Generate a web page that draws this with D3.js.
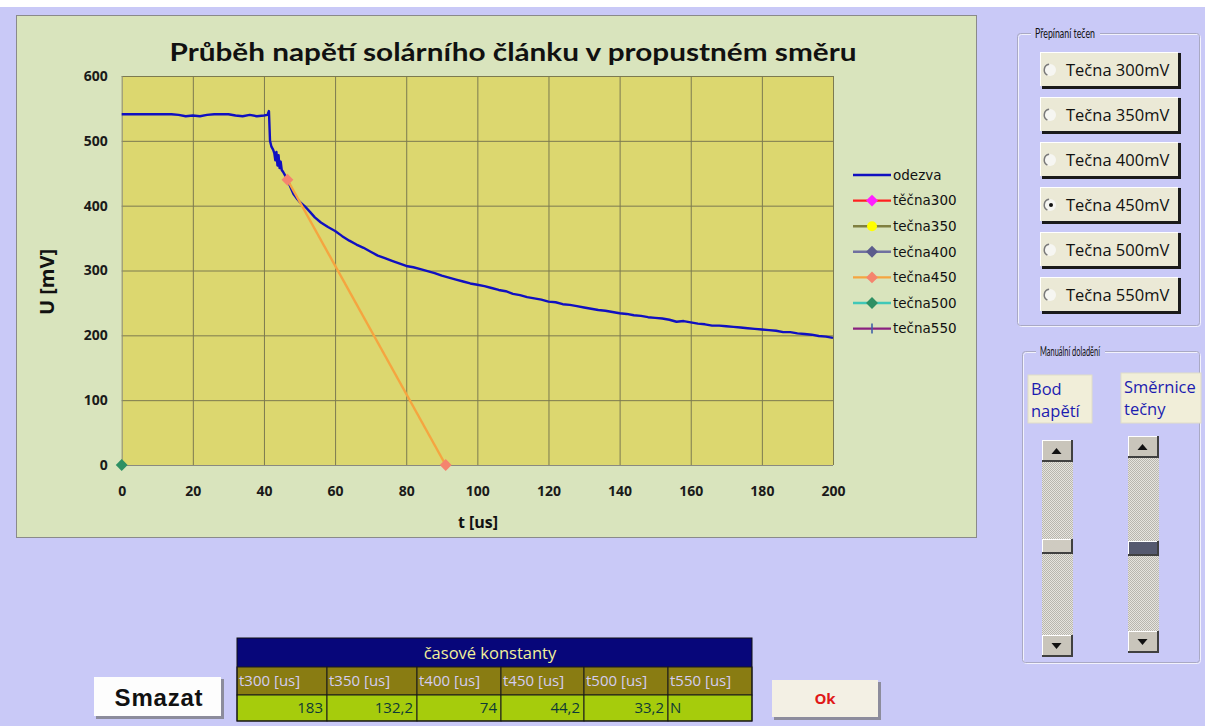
<!DOCTYPE html>
<html><head><meta charset="utf-8">
<script src="https://cdn.jsdelivr.net/npm/d3@7"></script>
<style>body{margin:0;background:#c9c9f7;} svg{display:block}</style>
</head><body><svg id="c" width="1205" height="726"></svg>
<script>
// ---------------- data ----------------
const chartTitle = "Průběh napětí solárního článku v propustném směru";
const seriesNames = ["odezva","těčna300","tečna350","tečna400","tečna450","tečna500","tečna550"];
const tOdezva = [0,2,4,6,8,10,12,14,16,18,20,22,24,26,28,30,32,34,36,38,40,41,41.4,
  41.7,42.1,42.6,42.9,43.2,43.5,43.8,44.1,44.4,44.7,45.0,45.4,45.9,46.6,47.5,48.3,49.1,50,51.5,53,54.3,56,58,
  60,62,64,66,68,70,72,74,76,78,80,82,84,86,88,90,92,94,96,98,100,102,104,106,108,110,112,114,116,118,
  120,122,124,126,128,130,132,134,136,138,140,142,144,146,148,150,152,154,156,158,160,162,164,166,168,
  170,172,174,176,178,180,182,184,186,188,190,192,194,196,198,200];
const uOdezva = [541,541,541,541,541,541,541,541,540,538,539,538,540,541,541,541,539,538,540,538,539,540,546,
  500,491,486,481,470,483,462,478,458,468,455,452,447,440,428,418,412,406,399,390,382,374,367,
  361,353,346,340,335,329,323,319,315,311,307,305,302,299,296,292,289,286,283,280,278,276,273,270,268,264,262,259,257,255,
  252,251,248,247,245,243,241,239,238,236,234,233,231,230,228,227,226,224,221,222,220,218,217,215,215,
  214,213,212,211,210,209,208,207,205,205,203,202,201,199,198,196];
const tTecna450 = [46.6, 91.1];
const uTecna450 = [440, 0];
const tTecna500 = [0];
const uTecna500 = [0];
const xTickValues = [0,20,40,60,80,100,120,140,160,180,200];
const yTickValues = [0,100,200,300,400,500,600];
const xTitle = "t [us]";
const yTitle = "U [mV]";
const radioGroupTitle = "Přepínaní tečen";
const radioLabels = ["Tečna 300mV","Tečna 350mV","Tečna 400mV","Tečna 450mV","Tečna 500mV","Tečna 550mV"];
const selectedRadio = 3;
const manualGroupTitle = "Manuální doladění";
const sliderLabels = [["Bod","napětí"],["Směrnice","tečny"]];
const tableTitle = "časové konstanty";
const tableHeaders = ["t300 [us]","t350 [us]","t400 [us]","t450 [us]","t500 [us]","t550 [us]"];
const tableValues = ["183","132,2","74","44,2","33,2","N"];
const clearLabel = "Smazat";
const okLabel = "Ok";

// ---------------- styles ----------------
const legendStyles = [
  {line:"#1010c0", marker:null, mfill:null},
  {line:"#ff2020", marker:"diamond", mfill:"#ff20ff"},
  {line:"#808040", marker:"circle", mfill:"#ffff00"},
  {line:"#7070a0", marker:"diamond", mfill:"#5c5c8c"},
  {line:"#f5a540", marker:"diamond", mfill:"#f5846e"},
  {line:"#40c8b8", marker:"diamond", mfill:"#2e9064"},
  {line:"#8a2080", marker:"plus", mfill:"#4060a8"}
];

const svg = d3.select("#c");
svg.append("rect").attr("x",0).attr("y",0).attr("width",1205).attr("height",7).attr("fill","#ffffff");

svg.append("rect").attr("x",16.5).attr("y",15.5).attr("width",960).attr("height",522)
  .attr("fill","#d9e4bd").attr("stroke","#8a8a8a");

const x = d3.scaleLinear().domain([0,200]).range([121.7,833]);
const y = d3.scaleLinear().domain([0,600]).range([465,76]);

svg.append("rect").attr("x",x(0)).attr("y",y(600)).attr("width",x(200)-x(0)).attr("height",y(0)-y(600))
  .attr("fill","#dcd76f");

const fontB = "'Open Sans', sans-serif";
const gy = svg.append("g").attr("transform",`translate(${x(0)},0)`)
  .call(d3.axisLeft(y).tickValues(yTickValues).tickSize(-(x(200)-x(0))).tickPadding(14).tickFormat(d3.format("d")));
const gx = svg.append("g").attr("transform",`translate(0,${y(0)})`)
  .call(d3.axisBottom(x).tickValues(xTickValues).tickSize(-(y(0)-y(600))).tickPadding(21).tickFormat(d3.format("d")));
[gy,gx].forEach(g=>{
  g.select(".domain").remove();
  g.selectAll(".tick line").attr("stroke","#7c7a50").attr("stroke-width",1);
  g.selectAll(".tick text").attr("font-family",fontB).attr("font-weight","bold").attr("font-size",14).attr("fill","#1a1a1a");
});
gy.selectAll(".tick line").filter(d=>d===0).attr("stroke","#8a8a80");
gx.selectAll(".tick line").filter(d=>d===0).attr("stroke","#8a8a80");

svg.append("text").attr("x",513).attr("y",61).attr("text-anchor","middle")
  .attr("font-family","Lato, sans-serif").attr("font-weight","bold").attr("font-size",25)
  .attr("textLength",687).attr("lengthAdjust","spacingAndGlyphs").attr("fill","#111").text(chartTitle);
svg.append("text").attr("transform","translate(54,282) rotate(-90)").attr("text-anchor","middle")
  .attr("font-family",fontB).attr("font-weight","bold").attr("font-size",20).attr("fill","#111").text(yTitle);
svg.append("text").attr("x",478).attr("y",528).attr("text-anchor","middle")
  .attr("font-family",fontB).attr("font-weight","bold").attr("font-size",16).attr("fill","#111").text(xTitle);

const line = d3.line().x((d,i)=>x(tOdezva[i])).y((d,i)=>y(uOdezva[i]));
svg.append("path").attr("d",line(uOdezva)).attr("fill","none").attr("stroke",legendStyles[0].line)
  .attr("stroke-width",2.4).attr("stroke-linejoin","round");

const l450 = d3.line().x((d,i)=>x(tTecna450[i])).y((d,i)=>y(uTecna450[i]));
svg.append("path").attr("d",l450(uTecna450)).attr("fill","none").attr("stroke",legendStyles[4].line).attr("stroke-width",2.4);

function marker(g, type, cx, cy, fill, s){
  if(type==="diamond"){
    g.append("path").attr("d",d3.symbol(d3.symbolDiamond2,s*s*0.9)()).attr("transform",`translate(${cx},${cy})`).attr("fill",fill);
  } else if(type==="circle"){
    g.append("circle").attr("cx",cx).attr("cy",cy).attr("r",s/2).attr("fill",fill);
  } else if(type==="plus"){
    g.append("path").attr("d",`M${cx},${cy-s/2}V${cy+s/2}`).attr("stroke",fill).attr("stroke-width",1.6);
  }
}
const mg = svg.append("g");
tTecna450.forEach((t,i)=>marker(mg,"diamond",x(t),y(uTecna450[i]),legendStyles[4].mfill,10));
tTecna500.forEach((t,i)=>marker(mg,"diamond",x(t),y(uTecna500[i]),legendStyles[5].mfill,10));

const lg = svg.append("g");
seriesNames.forEach((n,i)=>{
  const ly = 175 + i*25.6;
  const st = legendStyles[i];
  lg.append("line").attr("x1",853).attr("x2",891).attr("y1",ly).attr("y2",ly).attr("stroke",st.line).attr("stroke-width",2.4);
  if(st.marker) marker(lg, st.marker, 872, ly, st.mfill, 10);
  lg.append("text").attr("x",893).attr("y",ly).attr("dy","0.35em").attr("font-family","'DejaVu Sans', sans-serif")
    .attr("font-size",13.5).attr("fill","#111").text(n);
});

// ---------------- right controls ----------------
function groupBox(x0,y0,w,h,title,tw){
  svg.append("rect").attr("x",x0+0.5).attr("y",y0+0.5).attr("width",w).attr("height",h).attr("rx",3)
    .attr("fill","none").attr("stroke","#f2f2fc").attr("stroke-width",1);
  svg.append("rect").attr("x",x0-0.5).attr("y",y0-0.5).attr("width",w).attr("height",h).attr("rx",3)
    .attr("fill","none").attr("stroke","#a9a9c4").attr("stroke-width",1);
  svg.append("rect").attr("x",x0+13).attr("y",y0-7).attr("width",tw+9).attr("height",14).attr("fill","#c9c9f7");
  svg.append("text").attr("x",x0+17).attr("y",y0+4).attr("font-family","Lato, sans-serif").attr("font-size",12.5)
    .attr("textLength",tw).attr("lengthAdjust","spacingAndGlyphs").attr("fill","#111").text(title);
}
groupBox(1018,34,182,292,radioGroupTitle,60);
radioLabels.forEach((lab,i)=>{
  const by = 53 + i*45;
  const g = svg.append("g");
  g.append("rect").attr("x",1042).attr("y",by).attr("width",139).attr("height",36).attr("fill","#1a1a1a");
  g.append("rect").attr("x",1040).attr("y",by-1).attr("width",138).attr("height",34).attr("fill","#ffffff");
  g.append("rect").attr("x",1041).attr("y",by).attr("width",137).attr("height",33).attr("fill","#ebe9d6");
  const cy = by+17;
  g.append("circle").attr("cx",1050).attr("cy",cy).attr("r",6).attr("fill","#f6f6f2");
  g.append("path").attr("d",d3.arc()({innerRadius:5,outerRadius:6.5,startAngle:-Math.PI*0.85,endAngle:-Math.PI*0.05}))
    .attr("transform",`translate(1050,${cy})`).attr("fill","#7a7a7a");
  if(i===selectedRadio) g.append("circle").attr("cx",1051).attr("cy",cy).attr("r",2).attr("fill","#111");
  g.append("text").attr("x",1066).attr("y",cy).attr("dy","0.36em").attr("font-family",fontB).attr("font-size",16.5)
    .attr("fill","#111").text(lab);
});

groupBox(1023,352,177,311,manualGroupTitle,60);
const labelBoxes = [[1028,375,64,48],[1121,373,80,50]];
sliderLabels.forEach((ls,i)=>{
  const b = labelBoxes[i];
  svg.append("rect").attr("x",b[0]).attr("y",b[1]).attr("width",b[2]).attr("height",b[3]).attr("fill","#f1eed9")
    .attr("stroke","#e0ddc8");
  ls.forEach((t,j)=>svg.append("text").attr("x",b[0]+3).attr("y",b[1]+20+j*22).attr("font-family",fontB)
    .attr("font-size",16.5).attr("fill","#1c1cb0").text(t));
});
const defs = svg.append("defs");
const pat = defs.append("pattern").attr("id","dots").attr("width",2).attr("height",2).attr("patternUnits","userSpaceOnUse");
pat.append("rect").attr("width",2).attr("height",2).attr("fill","#e6e4de");
pat.append("rect").attr("width",1).attr("height",1).attr("fill","#b8b6ae");
pat.append("rect").attr("x",1).attr("y",1).attr("width",1).attr("height",1).attr("fill","#b8b6ae");

const sliders = [{x:1042,top:440,thumb:539,dark:false},{x:1128,top:436,thumb:541,dark:true}];
sliders.forEach(s=>{
  const w=31, h=217;
  svg.append("rect").attr("x",s.x).attr("y",s.top).attr("width",w).attr("height",h).attr("fill","url(#dots)");
  function btn(by,up){
    svg.append("rect").attr("x",s.x).attr("y",by).attr("width",w).attr("height",22).attr("fill","#404040");
    svg.append("rect").attr("x",s.x).attr("y",by).attr("width",w-2).attr("height",20).attr("fill","#ffffff");
    svg.append("rect").attr("x",s.x+1).attr("y",by+1).attr("width",w-3).attr("height",19).attr("fill","#c9c5bb");
    const cx=s.x+w/2-1, cy=by+11;
    svg.append("path").attr("d", up?`M${cx-5},${cy+3}L${cx+5},${cy+3}L${cx},${cy-3}Z`:`M${cx-5},${cy-3}L${cx+5},${cy-3}L${cx},${cy+3}Z`)
      .attr("fill","#111");
  }
  btn(s.top,true); btn(s.top+h-22,false);
  svg.append("rect").attr("x",s.x).attr("y",s.thumb).attr("width",w).attr("height",15).attr("fill","#404040");
  svg.append("rect").attr("x",s.x).attr("y",s.thumb).attr("width",w-2).attr("height",13).attr("fill","#ffffff");
  svg.append("rect").attr("x",s.x+1).attr("y",s.thumb+1).attr("width",w-3).attr("height",12).attr("fill",s.dark?"#55596f":"#cfcbc1");
});

// ---------------- table ----------------
const colX = [237,327,417,501,584,668,752];
const tg = svg.append("g");
tg.append("rect").attr("x",237).attr("y",638).attr("width",515).attr("height",29).attr("fill","#07067a");
tg.append("text").attr("x",490).attr("y",653).attr("dy","0.36em").attr("text-anchor","middle").attr("font-family",fontB)
  .attr("font-size",16.5).attr("fill","#f2f09a").text(tableTitle);
tableHeaders.forEach((h,i)=>{
  tg.append("rect").attr("x",colX[i]).attr("y",667).attr("width",colX[i+1]-colX[i]).attr("height",28)
    .attr("fill","#897c12").attr("stroke","#1a1a1a");
  tg.append("text").attr("x",colX[i]+2).attr("y",681).attr("dy","0.36em").attr("font-family",fontB)
    .attr("font-size",15).attr("fill","#d4cdf0").text(h);
  tg.append("rect").attr("x",colX[i]).attr("y",695).attr("width",colX[i+1]-colX[i]).attr("height",26)
    .attr("fill","#a6cc0c").attr("stroke","#1a1a1a");
  const isNum = tableValues[i] !== "N";
  tg.append("text").attr("x",isNum?colX[i+1]-4:colX[i]+2).attr("y",708).attr("dy","0.36em")
    .attr("text-anchor",isNum?"end":"start").attr("font-family",fontB).attr("font-size",15)
    .attr("fill","#0e3a36").text(tableValues[i]);
});
tg.append("rect").attr("x",237).attr("y",638).attr("width",515).attr("height",83).attr("fill","none").attr("stroke","#111");

svg.append("rect").attr("x",96).attr("y",679).attr("width",128).attr("height",40).attr("fill","#8c8c9c");
svg.append("rect").attr("x",94).attr("y",677).attr("width",127).attr("height",39).attr("fill","#fdfdfd");
svg.append("text").attr("x",159).attr("y",697).attr("dy","0.36em").attr("text-anchor","middle")
  .attr("font-family","'Liberation Sans', Arial, sans-serif").attr("font-weight","bold").attr("font-size",24)
  .attr("letter-spacing",0.8).attr("fill","#111").text(clearLabel);
svg.append("rect").attr("x",774).attr("y",682).attr("width",107).attr("height",38).attr("fill","#8c8c9c");
svg.append("rect").attr("x",772).attr("y",680).attr("width",106).attr("height",37).attr("fill","#f3f0e4");
svg.append("text").attr("x",825).attr("y",699).attr("dy","0.36em").attr("text-anchor","middle")
  .attr("font-family",fontB).attr("font-weight","bold").attr("font-size",15).attr("fill","#e01818").text(okLabel);
</script></body></html>
